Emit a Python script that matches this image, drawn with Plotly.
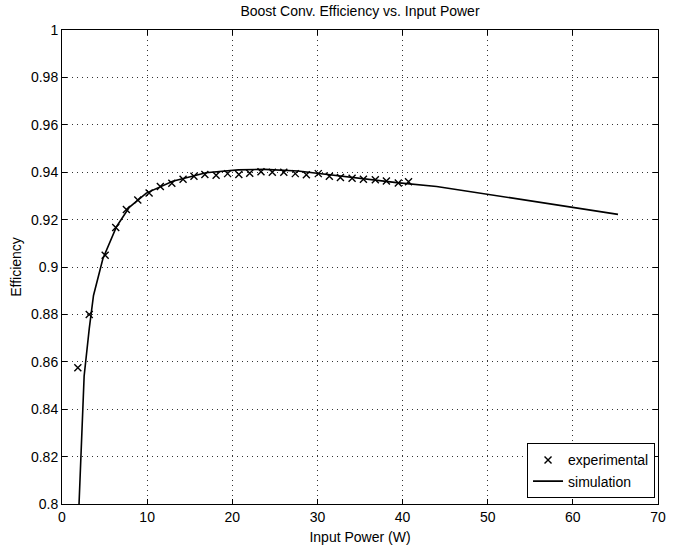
import plotly.graph_objects as go

# experimental measurements
exp_power = [1.86, 3.2, 5.07, 6.31, 7.56, 8.9, 10.23, 11.55, 12.9, 14.22,
             15.5, 16.78, 18.1, 19.45, 20.77, 22.05, 23.37, 24.7, 26.05, 27.4,
             28.7, 30.1, 31.4, 32.7, 34.07, 35.4, 36.8, 38.1, 39.5, 40.7]
exp_eff = [0.8575, 0.880, 0.905, 0.9167, 0.9243, 0.9283, 0.9312, 0.934, 0.9353, 0.937,
           0.9383, 0.939, 0.9387, 0.9394, 0.939, 0.9396, 0.9402, 0.940, 0.940, 0.9394,
           0.9389, 0.9394, 0.9383, 0.9378, 0.9374, 0.937, 0.9368, 0.9363, 0.9354, 0.936]

# simulation curve
sim_power = [2.0, 2.6, 3.2, 3.7, 4.8, 6.4, 7.9, 9.9, 13.0, 16.9, 20.7, 23.8,
             27.7, 31.6, 35.5, 39.3, 44.0, 50.0, 57.9, 65.3]
sim_eff = [0.800, 0.854, 0.874, 0.888, 0.9035, 0.917, 0.9252, 0.9312, 0.9362, 0.9398, 0.9410, 0.9412,
           0.9405, 0.9388, 0.9372, 0.9356, 0.9340, 0.9306, 0.9264, 0.9222]

x_ticks = [0, 10, 20, 30, 40, 50, 60, 70]
y_ticks = [0.8, 0.82, 0.84, 0.86, 0.88, 0.9, 0.92, 0.94, 0.96, 0.98, 1]

fnt = 'Liberation Sans, Arial, Helvetica, sans-serif'
FS = 14

fig = go.Figure()
fig.add_trace(go.Scatter(x=exp_power, y=exp_eff, mode='markers', name='experimental',
                         marker=dict(symbol='x-thin', size=7, color='black',
                                     line=dict(color='black', width=1.4))))
fig.add_trace(go.Scatter(x=sim_power, y=sim_eff, mode='lines', name='simulation',
                         line=dict(color='black', width=1.6)))

axis_common = dict(showline=True, linecolor='black', linewidth=1, mirror='allticks',
                   ticks='inside', ticklen=5, tickcolor='black',
                   showgrid=True, gridcolor='#333333', griddash='1px,4px', gridwidth=1,
                   zeroline=False, tickfont=dict(family=fnt, size=FS, color='black'))

fig.update_xaxes(range=[0, 70], tickvals=x_ticks,
                 title=dict(text='Input Power (W)', font=dict(family=fnt, size=FS, color='black'), standoff=8),
                 **axis_common)
fig.update_yaxes(range=[0.8, 1], tickvals=y_ticks, ticktext=[f'{v:g}' for v in y_ticks],
                 title=dict(text='Efficiency', font=dict(family=fnt, size=FS, color='black'), standoff=6),
                 **axis_common)

fig.update_layout(
    width=674, height=551,
    margin=dict(l=62, r=8, t=30, b=45),
    paper_bgcolor='white', plot_bgcolor='white',
    title=dict(text='Boost Conv. Efficiency vs. Input Power', xref='paper', x=0.5, xanchor='center',
               y=0.98, yanchor='middle', font=dict(family=fnt, size=FS, color='black')),
    legend=dict(x=0.995, y=0.012, xanchor='right', yanchor='bottom',
                bordercolor='black', borderwidth=1, bgcolor='white',
                font=dict(family=fnt, size=FS, color='black'),
                tracegroupgap=0, itemwidth=30),
    showlegend=True,
)

# page body has a default margin; drop it so the figure sits at the window corner
fig.write_html("out.html", config={'displayModeBar': False},
               post_script="document.body.style.margin='0';")
